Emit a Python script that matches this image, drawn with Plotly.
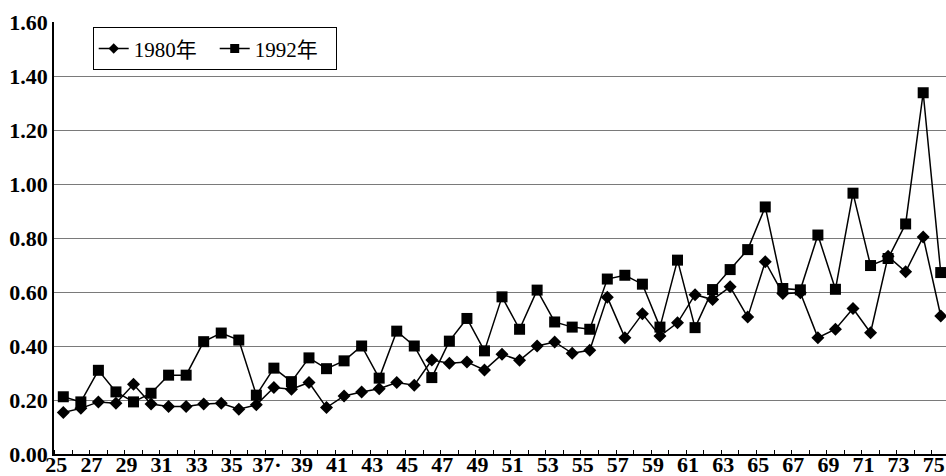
import plotly.graph_objects as go

ages = list(range(25, 76))

rate_1980 = [0.154, 0.169, 0.193, 0.188, 0.258, 0.185, 0.176, 0.176, 0.185, 0.188,
             0.166, 0.182, 0.246, 0.240, 0.265, 0.172, 0.215, 0.230, 0.242, 0.265,
             0.255, 0.348, 0.336, 0.341, 0.311, 0.369, 0.347, 0.400, 0.415, 0.373,
             0.384, 0.581, 0.431, 0.519, 0.437, 0.486, 0.590, 0.572, 0.619, 0.507,
             0.712, 0.594, 0.597, 0.431, 0.462, 0.539, 0.449, 0.732, 0.675, 0.804,
             0.511]

rate_1992 = [0.212, 0.193, 0.310, 0.230, 0.193, 0.225, 0.292, 0.292, 0.416, 0.448,
             0.422, 0.218, 0.318, 0.268, 0.356, 0.316, 0.345, 0.400, 0.281, 0.455,
             0.400, 0.283, 0.418, 0.502, 0.382, 0.582, 0.462, 0.607, 0.489, 0.470,
             0.462, 0.648, 0.662, 0.629, 0.470, 0.718, 0.468, 0.609, 0.683, 0.757,
             0.915, 0.613, 0.608, 0.811, 0.610, 0.966, 0.698, 0.724, 0.852, 1.338,
             0.672]

tick_ages = [25, 27, 29, 31, 33, 35, 37, 39, 41, 43, 45, 47, 49, 51, 53, 55, 57,
             59, 61, 63, 65, 67, 69, 71, 73, 75]
tick_text = ["25", "27", "29", "31", "33", "35", "37·", "39", "41", "43", "45", "47",
             "49", "51", "53", "55", "57", "59", "61", "63", "65", "67", "69", "71",
             "73", "75"]
y_ticks = [0.0, 0.2, 0.4, 0.6, 0.8, 1.0, 1.2, 1.4, 1.6]

SERIF = "Liberation Serif, Times New Roman, Noto Sans CJK SC, serif"

series = [
    ("1980年", rate_1980, "diamond", 10, 8),
    ("1992年", rate_1992, "square", 11, 9),
]

fig = go.Figure()
for name, vals, sym, size, legsize in series:
    fig.add_trace(go.Scatter(
        x=ages, y=vals, name=name, mode="lines+markers",
        line=dict(color="black", width=1.5),
        marker=dict(symbol=sym, size=size, color="black"),
        showlegend=False,
    ))
for name, vals, sym, size, legsize in series:
    # legend entry with a smaller marker, as in the original legend
    fig.add_trace(go.Scatter(
        x=[None], y=[None], name=name, mode="lines+markers",
        line=dict(color="black", width=1.5),
        marker=dict(symbol=sym, size=legsize, color="black"),
        showlegend=True,
    ))

fig.update_layout(
    width=946, height=476,
    margin=dict(l=54, r=0, t=22, b=22, autoexpand=False),
    paper_bgcolor="white", plot_bgcolor="white",
    font=dict(family=SERIF, color="black"),
    showlegend=True,
    legend=dict(
        orientation="h", x=0.0434, y=0.938, xanchor="left", yanchor="middle",
        bordercolor="black", borderwidth=1, bgcolor="white",
        font=dict(family=SERIF, size=21, color="black"),
        entrywidth=76, entrywidthmode="pixels",
        itemwidth=30, tracegroupgap=0,
    ),
)

fig.update_xaxes(
    automargin=False,
    range=[24.47, 75.3],
    tickmode="array",
    tickvals=[a - 0.4 for a in tick_ages],
    ticktext=tick_text,
    ticks="",
    ticklabelstandoff=-10,
    showgrid=False,
    zeroline=False,
    showline=True, linecolor="black", linewidth=1.5,
    tickfont=dict(family=SERIF, size=22, color="black", weight="bold"),
    minor=dict(ticks="inside", ticklen=4, tickcolor="black", tickwidth=1,
               tick0=24.5, dtick=1, showgrid=False),
)

fig.update_yaxes(
    automargin=False,
    range=[0, 1.6],
    tickmode="array",
    tickvals=y_ticks,
    ticktext=[f"{v:.2f}" for v in y_ticks],
    ticks="",
    showgrid=True, gridcolor="#7a7a7a", gridwidth=1,
    zeroline=False,
    showline=True, linecolor="black", linewidth=1.5,
    tickfont=dict(family=SERIF, size=22, color="black", weight="bold"),
)

# remove the browser's default 8px body margin so the figure fills the window
fig.write_html(
    "out.html",
    config={"displayModeBar": False},
    post_script="document.body.style.margin='0';document.body.style.overflow='hidden';",
)
